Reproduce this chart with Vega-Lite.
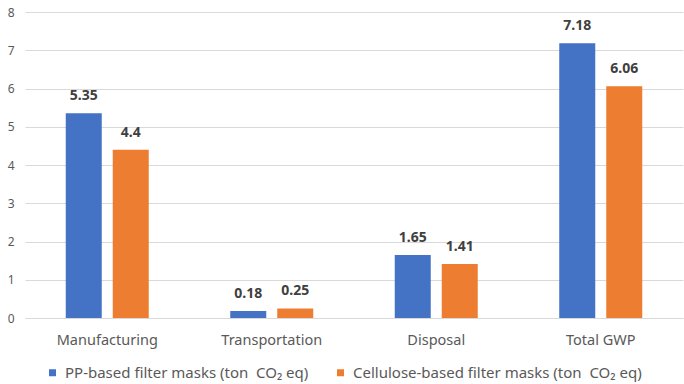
{
  "$schema": "https://vega.github.io/schema/vega-lite/v6.json",
  "width": 658,
  "height": 306,
  "autosize": {"type": "none"},
  "padding": {"left": 25, "top": 12, "right": 1, "bottom": 66},
  "background": "white",
  "config": {
    "view": {"stroke": null},
    "font": "Noto Sans",
    "axis": {"labelFont": "Noto Sans", "labelColor": "#595959", "labelFontSize": 14.5},
    "legend": {"labelFont": "Noto Sans", "labelColor": "#595959", "labelFontSize": 15}
  },
  "data": {
    "values": [
      {"category": "Manufacturing", "series": "PP-based filter masks (ton\u00a0 CO₂ eq)", "value": 5.35},
      {"category": "Manufacturing", "series": "Cellulose-based filter masks (ton\u00a0 CO₂ eq)", "value": 4.4},
      {"category": "Transportation", "series": "PP-based filter masks (ton\u00a0 CO₂ eq)", "value": 0.18},
      {"category": "Transportation", "series": "Cellulose-based filter masks (ton\u00a0 CO₂ eq)", "value": 0.25},
      {"category": "Disposal", "series": "PP-based filter masks (ton\u00a0 CO₂ eq)", "value": 1.65},
      {"category": "Disposal", "series": "Cellulose-based filter masks (ton\u00a0 CO₂ eq)", "value": 1.41},
      {"category": "Total GWP", "series": "PP-based filter masks (ton\u00a0 CO₂ eq)", "value": 7.18},
      {"category": "Total GWP", "series": "Cellulose-based filter masks (ton\u00a0 CO₂ eq)", "value": 6.06}
    ]
  },
  "encoding": {
    "x": {
      "field": "category", "type": "nominal", "sort": null,
      "scale": {"paddingInner": 0, "paddingOuter": 0},
      "axis": {"title": null, "labelAngle": 0, "domain": true, "domainColor": "#d9d9d9", "ticks": false, "labelPadding": 15}
    },
    "xOffset": {
      "field": "series", "type": "nominal",
      "sort": ["PP-based filter masks (ton\u00a0 CO₂ eq)", "Cellulose-based filter masks (ton\u00a0 CO₂ eq)"],
      "scale": {"paddingInner": 0.234, "paddingOuter": 0.867}
    },
    "y": {
      "field": "value", "type": "quantitative",
      "scale": {"domain": [0, 8], "nice": false},
      "axis": {"title": null, "values": [0, 1, 2, 3, 4, 5, 6, 7, 8], "labelOverlap": false, "labelFontSize": 12, "domain": false, "ticks": false, "gridColor": "#d9d9d9", "gridWidth": 1, "labelPadding": 11}
    }
  },
  "layer": [
    {
      "mark": {"type": "bar"},
      "encoding": {
        "color": {
          "field": "series", "type": "nominal",
          "scale": {
            "domain": ["PP-based filter masks (ton\u00a0 CO₂ eq)", "Cellulose-based filter masks (ton\u00a0 CO₂ eq)"],
            "range": ["#4472C4", "#ED7D31"]
          },
          "legend": {
            "title": null, "orient": "none", "direction": "horizontal",
            "legendX": 20, "legendY": 353,
            "symbolType": "square", "symbolSize": 49, "symbolStrokeWidth": 0,
            "columnPadding": 24, "labelOffset": 5, "labelLimit": 400
          }
        }
      }
    },
    {
      "mark": {"type": "text", "baseline": "bottom", "dy": -10, "fontWeight": "bold", "fontSize": 14, "color": "#404040", "font": "Noto Sans"},
      "encoding": {
        "text": {"field": "value", "type": "quantitative"}
      }
    }
  ]
}
